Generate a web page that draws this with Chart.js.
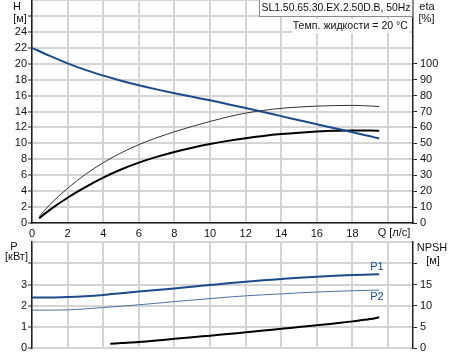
<!DOCTYPE html>
<html><head><meta charset="utf-8">
<script src="https://cdn.jsdelivr.net/npm/chart.js@4"></script>
<style>
html,body{margin:0;padding:0;background:#fff;width:453px;height:358px;overflow:hidden;position:relative}
canvas{position:absolute;left:0}
#top{top:-10px}
#bot{top:232px}
</style></head><body>
<canvas id="top" width="453" height="251"></canvas>
<canvas id="bot" width="453" height="126"></canvas>
<script>
// ---- data ----
const qTicks = [0,2,4,6,8,10,12,14,16,18,20];
const hTicks = [0,2,4,6,8,10,12,14,16,18,20,22,24,26,28];
const etaTicks = [0,10,20,30,40,50,60,70,80,90,100];
const pTicks = [0,1,2,3,4,5];
const npshTicks = [0,5,10,15,20];

const qH = [0,1,2,3,4,5,6,7,8,9,10,11,12,13,14,15,16,17,18,19,19.5];
const headM = [22.0,20.98,20.05,19.22,18.5,17.87,17.3,16.78,16.3,15.84,15.4,14.92,14.43,13.93,13.42,12.91,12.4,11.9,11.4,10.88,10.62];

const qEta = [0.4,1,2,3,4,5,6,7,8,9,10,11,12,13,14,15,16,17,18,19,19.5];
const etaThin = [4,11.5,21.75,30.5,37.85,44,49.2,53.5,57.25,60.65,63.75,66.6,69.0,70.7,72.0,72.8,73.4,73.7,73.85,73.45,73.1];
const etaThick = [3,8.25,15.85,22.5,28.5,33.6,37.9,41.5,44.6,47.25,49.55,51.55,53.25,54.65,55.8,56.7,57.4,57.9,58.15,58.05,57.85];

const qP = [0,1,2,3,4,5,6,7,8,9,10,11,12,13,14,15,16,17,18,19,19.5];
const p1 = [2.39,2.39,2.41,2.45,2.51,2.59,2.67,2.75,2.82,2.9,2.98,3.06,3.13,3.2,3.26,3.32,3.37,3.41,3.445,3.475,3.49];
const p2 = [1.8,1.8,1.81,1.86,1.92,1.98,2.05,2.12,2.2,2.27,2.34,2.41,2.47,2.52,2.56,2.61,2.65,2.68,2.71,2.73,2.74];

const qN = [4.4,5,6,7,8,9,10,11,12,13,14,15,16,17,18,19,19.5];
const npsh = [1.1,1.25,1.5,1.85,2.25,2.6,3.0,3.38,3.78,4.18,4.6,5.0,5.42,5.87,6.35,6.9,7.3];

// ---- styling ----
const FONT = '"Liberation Sans", Arial, sans-serif';
Chart.defaults.font.family = FONT;
Chart.defaults.font.size = 11;
Chart.defaults.color = '#111';
const GRID = '#d4d4d4', AX = '#222', BLUE = '#1b4b8a';
const pts = (xs, ys) => xs.map((x, i) => ({x, y: ys[i]}));
const setTicks = arr => s => { s.ticks = arr.map(v => ({value: v})); };

const textPlugin = {
  id: 'txt',
  afterDraw(chart, args, opts) {
    const ctx = chart.ctx, dy = opts.dy || 0;
    ctx.save();
    (opts.boxes || []).forEach(b => {
      ctx.fillStyle = '#fff';
      ctx.fillRect(b.x, b.y + dy, b.w, b.h);
      if (b.stroke) { ctx.strokeStyle = b.stroke; ctx.lineWidth = 1; ctx.strokeRect(b.x + .5, b.y + dy + .5, b.w, b.h); }
    });
    (opts.texts || []).forEach(t => {
      ctx.font = (t.f || 11) + 'px ' + FONT;
      ctx.fillStyle = t.c || '#111';
      ctx.textAlign = t.a || 'center';
      ctx.textBaseline = 'middle';
      ctx.fillText(t.s, t.x, t.y + dy);
    });
    ctx.restore();
  }
};

const common = {
  responsive: false, animation: false, devicePixelRatio: 1,
  elements: {point: {radius: 0}, line: {cubicInterpolationMode: 'monotone', fill: false}},
};

new Chart(document.getElementById('top'), {
  type: 'line',
  data: {datasets: [
    {data: pts(qH, headM), yAxisID: 'y', borderColor: BLUE, borderWidth: 2},
    {data: pts(qEta, etaThin), yAxisID: 'y2', borderColor: '#333', borderWidth: 1},
    {data: pts(qEta, etaThick), yAxisID: 'y2', borderColor: '#000', borderWidth: 2},
  ]},
  options: Object.assign({}, common, {
    layout: {padding: {top: 10, left: 0, right: 0, bottom: 0}},
    plugins: {
      legend: {display: false}, tooltip: {enabled: false},
      txt: {
        dy: 10,
        boxes: [
          {x: 259, y: -1, w: 153, h: 17, stroke: '#8a8a8a'},
          {x: 292, y: 19, w: 118, h: 14}
        ],
        texts: [
          {s: 'H', x: 17, y: 7}, {s: '[м]', x: 20, y: 19},
          {s: 'eta', x: 427, y: 7}, {s: '[%]', x: 426.5, y: 19},
          {s: 'Q [л/с]', x: 394, y: 233},
          {s: 'SL1.50.65.30.EX.2.50D.B, 50Hz', x: 336, y: 8, f: 10.4},
          {s: 'Темп. жидкости = 20 °C', x: 408, y: 26, a: 'right', f: 10.6}
        ]
      }
    },
    scales: {
      x: {type: 'linear', min: 0, max: 21.4, afterBuildTicks: setTicks(qTicks), afterFit: s => { s.height = 18; },
          grid: {color: GRID, lineWidth: 2, drawTicks: false}, border: {color: AX, width: 1.5},
          ticks: {padding: 4, autoSkip: false, maxRotation: 0, callback: v => v === 20 ? '' : String(v)}},
      y: {position: 'left', min: 0, max: 28, afterBuildTicks: setTicks(hTicks), afterFit: s => { s.width = 32; },
          grid: {color: GRID, lineWidth: 2, tickLength: 4, tickWidth: 1,
                 tickColor: c => (c.tick && c.tick.value === 28) ? 'rgba(0,0,0,0)' : AX},
          border: {color: AX, width: 1.5},
          ticks: {padding: 1, autoSkip: false, callback: v => v > 24 ? '' : String(v)}},
      y2: {position: 'right', min: 0, max: 140, afterBuildTicks: setTicks(etaTicks), afterFit: s => { s.width = 40; },
           grid: {drawOnChartArea: false, tickColor: AX, tickLength: 4, tickWidth: 1},
           border: {color: AX, width: 1.5}, ticks: {padding: 3, autoSkip: false}}
    }
  }),
  plugins: [textPlugin]
});

new Chart(document.getElementById('bot'), {
  type: 'line',
  data: {datasets: [
    {data: pts(qP, p1), yAxisID: 'y', borderColor: BLUE, borderWidth: 2},
    {data: pts(qP, p2), yAxisID: 'y', borderColor: '#4a72a0', borderWidth: 1},
    {data: pts(qN, npsh), yAxisID: 'y2', borderColor: '#000', borderWidth: 2},
  ]},
  options: Object.assign({}, common, {
    layout: {padding: {top: 10, left: 0, right: 0, bottom: 0}},
    plugins: {
      legend: {display: false}, tooltip: {enabled: false},
      txt: {
        dy: -232,
        texts: [
          {s: 'P', x: 14, y: 247}, {s: '[кВт]', x: 16.5, y: 257},
          {s: 'NPSH', x: 432, y: 248}, {s: '[м]', x: 433, y: 260.5},
          {s: 'P1', x: 377, y: 267, c: BLUE}, {s: 'P2', x: 377, y: 297, c: BLUE}
        ]
      }
    },
    scales: {
      x: {type: 'linear', min: 0, max: 21.4, afterBuildTicks: setTicks(qTicks), afterFit: s => { s.height = 9; },
          grid: {color: GRID, lineWidth: 2, drawTicks: false}, border: {color: GRID, width: 2},
          ticks: {display: false}},
      y: {position: 'left', min: 0, max: 5, afterBuildTicks: setTicks(pTicks), afterFit: s => { s.width = 32; },
          grid: {color: GRID, lineWidth: 2, tickLength: 4, tickWidth: 1,
                 tickColor: c => (c.tick && c.tick.value === 5) ? 'rgba(0,0,0,0)' : AX},
          border: {color: AX, width: 1.5},
          ticks: {padding: 1, autoSkip: false, callback: v => v > 3 ? '' : String(v)}},
      y2: {position: 'right', min: 0, max: 25, afterBuildTicks: setTicks(npshTicks), afterFit: s => { s.width = 40; },
           grid: {drawOnChartArea: false, tickColor: AX, tickLength: 4, tickWidth: 1},
           border: {color: AX, width: 1.5}, ticks: {padding: 3, autoSkip: false, callback: v => v > 15 ? '' : String(v)}}
    }
  }),
  plugins: [textPlugin]
});
</script>
</body></html>
